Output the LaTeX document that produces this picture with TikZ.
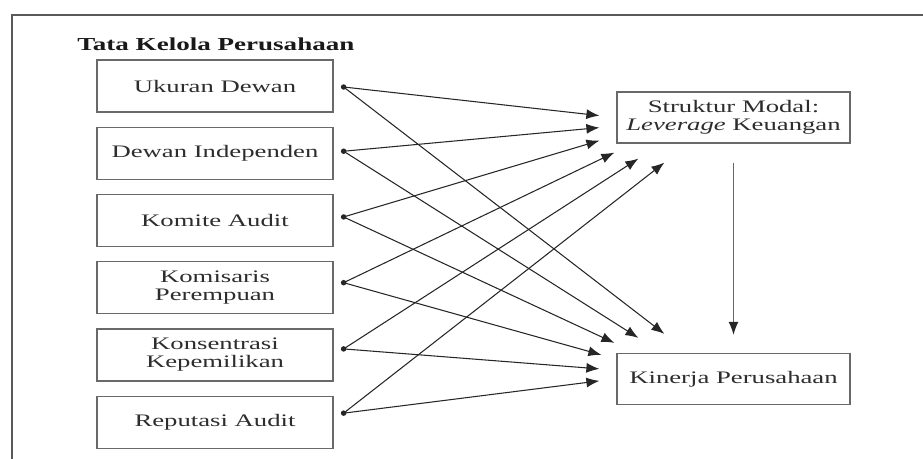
\documentclass[tikz,border=0pt]{standalone}
\usepackage{fontspec}
\setmainfont{Liberation Serif}
\newfontfamily\boxfont{Liberation Serif}[FakeStretch=1.52]
\newfontfamily\headfont{Liberation Serif}[FakeStretch=1.48]
\usetikzlibrary{positioning, arrows.meta, calc}
\definecolor{BoxGray}{RGB}{105,105,105}
\definecolor{TextGray}{RGB}{45,45,45}
\definecolor{FrameGray}{RGB}{90,90,90}

\begin{document}
\begin{tikzpicture}[
    node distance=0.28cm,
    box/.style={rectangle, draw=BoxGray, line width=0.7pt, fill=white,
                minimum width=4.72cm, minimum height=1.04cm, align=center,
                text=TextGray, font=\boxfont\fontsize{10}{10.2}\selectfont},
    outbox/.style={box, minimum width=4.66cm, minimum height=1.02cm},
    link/.style={-{Latex[length=2.6mm,width=2mm]}, line width=0.6pt, draw=black!85},
    dotmark/.style={fill=black!85}
]
\useasboundingbox (0,0) rectangle (18.46,-9.18);

% Frame
\draw[FrameGray, line width=0.8pt] (0.24,-9.18) -- (0.24,-0.30) -- (18.46,-0.30);

% Title
\node[anchor=base west, inner sep=0pt, text=black!90,
      font=\headfont\fontsize{10.4}{12}\selectfont\bfseries] (title) at (1.54,-1.0) {Tata Kelola Perusahaan};

% Governance boxes
\node[box] (ukuran) at (4.30,-1.72) {Ukuran Dewan};
\node[box, below=of ukuran] (dewan) {Dewan Independen};
\node[box, below=of dewan] (komite) {Komite Audit};
\node[box, below=of komite] (komisaris) {Komisaris\\Perempuan};
\node[box, below=of komisaris] (konsentrasi) {Konsentrasi\\Kepemilikan};
\node[box, below=of konsentrasi] (reputasi) {Reputasi Audit};

% Outcome boxes
\node[outbox] (struktur) at (14.67,-2.35) {Struktur Modal:\\\textit{Leverage} Keuangan};
\node[outbox] (kinerja) at (14.67,-7.58) {Kinerja Perusahaan};

% Start points
\coordinate (d1) at ($(ukuran.east)+(0.2,-0.02)$);
\coordinate (d2) at ($(dewan.east)+(0.2,0.04)$);
\coordinate (d3) at ($(komite.east)+(0.2,0.07)$);
\coordinate (d4) at ($(komisaris.east)+(0.2,0.10)$);
\coordinate (d5) at ($(konsentrasi.east)+(0.2,0.12)$);
\coordinate (d6) at ($(reputasi.east)+(0.2,0.18)$);

% End points
\coordinate (s1) at ($(struktur.south west)+(-0.34,0.56)$);
\coordinate (s2) at ($(struktur.south west)+(-0.34,0.32)$);
\coordinate (s3) at ($(struktur.south west)+(-0.34,0.06)$);
\coordinate (s4) at ($(struktur.south west)+(-0.04,-0.18)$);
\coordinate (s5) at ($(struktur.south west)+(0.44,-0.30)$);
\coordinate (s6) at ($(struktur.south west)+(0.96,-0.38)$);

\coordinate (k1) at ($(kinerja.north west)+(0.96,0.38)$);
\coordinate (k2) at ($(kinerja.north west)+(0.44,0.30)$);
\coordinate (k3) at ($(kinerja.north west)+(-0.04,0.20)$);
\coordinate (k4) at ($(kinerja.north west)+(-0.30,-0.04)$);
\coordinate (k5) at ($(kinerja.north west)+(-0.34,-0.32)$);
\coordinate (k6) at ($(kinerja.north west)+(-0.34,-0.56)$);

% Arrows
\draw[link] (d1) -- (s1);
\draw[link] (d2) -- (s2);
\draw[link] (d3) -- (s3);
\draw[link] (d4) -- (s4);
\draw[link] (d5) -- (s5);
\draw[link] (d6) -- (s6);

\draw[link] (d1) -- (k1);
\draw[link] (d2) -- (k2);
\draw[link] (d3) -- (k3);
\draw[link] (d4) -- (k4);
\draw[link] (d5) -- (k5);
\draw[link] (d6) -- (k6);

\draw[-{Latex[length=2.6mm,width=2mm,color=black!85]}, draw=black!60, line width=0.75pt,
      shorten <=0.38cm, shorten >=0.36cm] (struktur) -- (kinerja);

% Dots
\fill[dotmark] (d1) circle (0.055);
\fill[dotmark] (d2) circle (0.055);
\fill[dotmark] (d3) circle (0.055);
\fill[dotmark] (d4) circle (0.055);
\fill[dotmark] (d5) circle (0.055);
\fill[dotmark] (d6) circle (0.055);

\end{tikzpicture}
\end{document}
